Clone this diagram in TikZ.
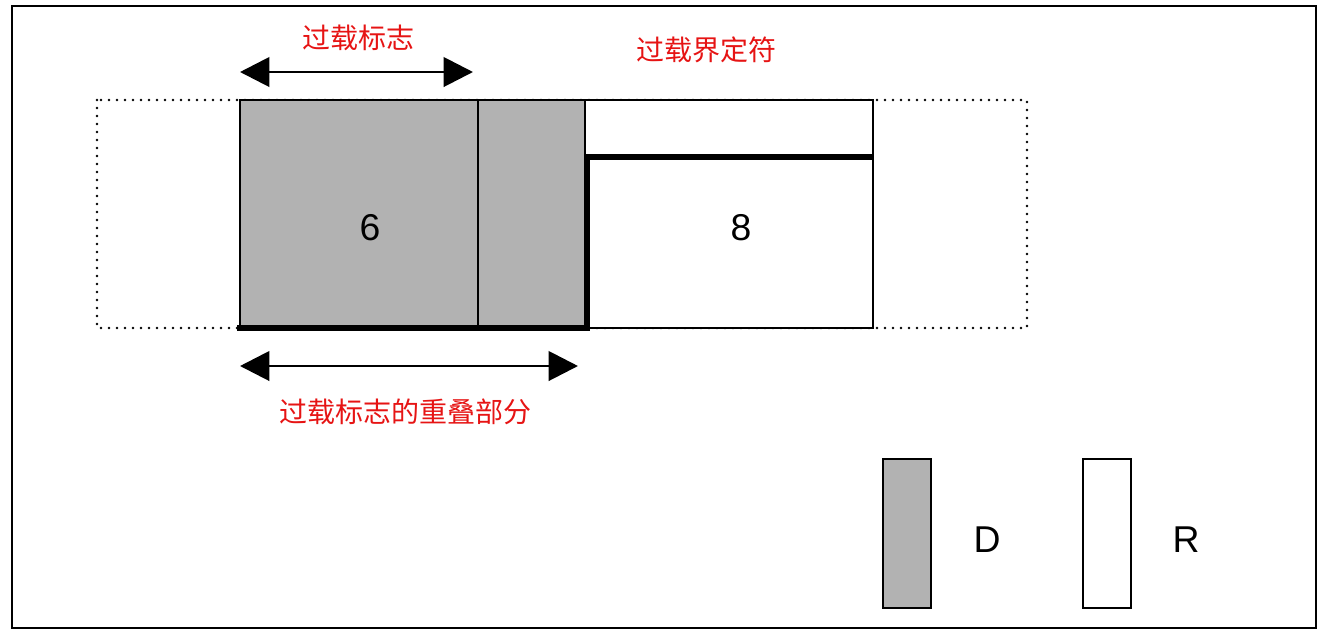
\documentclass[tikz,border=0pt]{standalone}
\usepackage{fontspec}
\setmainfont{Liberation Sans}
\newfontfamily\cjk{Noto Sans CJK SC}
\usetikzlibrary{arrows.meta}
\definecolor{dgray}{RGB}{178,178,178}
\definecolor{lred}{RGB}{230,20,20}
\begin{document}
\begin{tikzpicture}[x=0.75pt,y=-0.75pt,
  lbl/.style={font=\cjk\fontsize{21}{24}\selectfont,text=lred},
  num/.style={font=\fontsize{28}{32}\selectfont},
  darr/.style={line width=2.2pt,{Triangle[length=22pt,width=22pt]}-{Triangle[length=22pt,width=22pt]}},
  box/.style={draw,line width=1.3pt}]
\useasboundingbox (0,0) rectangle (1334,633);
\draw[line width=1pt] (12,6) rectangle (1316,628);
\draw[line width=2pt,line cap=round,dash pattern=on 0pt off 6pt] (97,100) rectangle (1027,328);
\draw[box,fill=dgray] (240,100) rectangle (585,328);
\draw[box] (478,100) -- (478,328);
\draw[box,fill=white] (585,100) rectangle (873,328);
\draw[line width=4pt] (237,328) -- (587,328) -- (587,157) -- (873,157);
\node[num] (six) at (370,228) {6};
\node[num] (eight) at (741,228) {8};
\coordinate (a1) at (240,72); \coordinate (a2) at (473,72);
\draw[darr] (a1) -- (a2);
\coordinate (b1) at (240,366); \coordinate (b2) at (578,366);
\draw[darr] (b1) -- (b2);
\node[lbl] (l1) at (358,38) {过载标志};
\node[lbl] (l2) at (706,50) {过载界定符};
\node[lbl] (l3) at (405,412) {过载标志的重叠部分};
\draw[box,fill=dgray] (883,459) rectangle (931,608);
\node[num] (d) at (987,540) {D};
\draw[box] (1083,459) rectangle (1131,608);
\node[num] (r) at (1186,540) {R};
\end{tikzpicture}
\end{document}
